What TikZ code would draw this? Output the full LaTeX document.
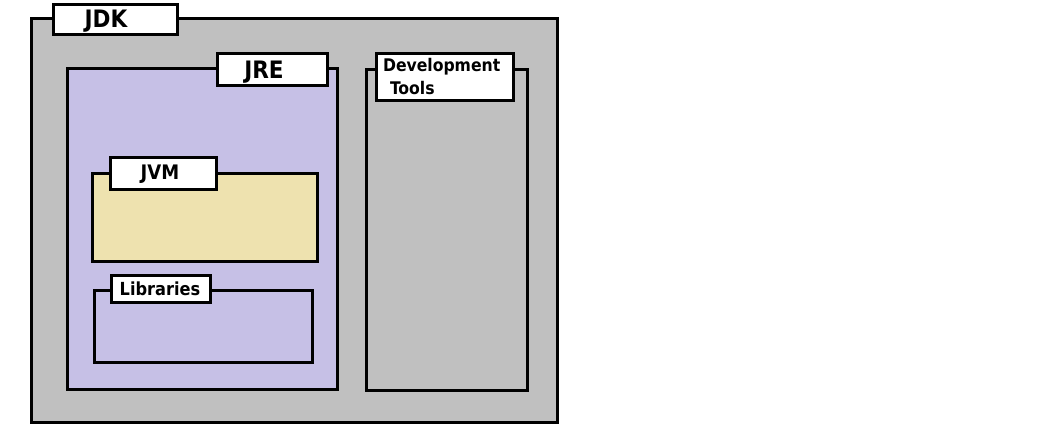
\documentclass[tikz,border=0pt]{standalone}
\usepackage{fontspec}
\setmainfont{DejaVu Sans}
\newfontfamily\labfont{DejaVu Sans Condensed}
\definecolor{jdkgray}{HTML}{C0C0C0}
\definecolor{jrelav}{HTML}{C6C0E6}
\definecolor{jvmtan}{HTML}{EEE2AF}
\begin{document}
\begin{tikzpicture}[x=1pt,y=-1pt,
  box/.style={draw=black, line width=3pt, inner sep=0pt, outer sep=0pt, rectangle},
  lab/.style={draw=black, fill=white, line width=3pt, inner sep=0pt, outer sep=0pt, rectangle},
  txt/.style={inner sep=0pt, outer sep=0pt, text=black}]
\useasboundingbox (0,0) rectangle (1045,428);
\fill[white] (0,0) rectangle (1045,428);
% JDK
\node[box, fill=jdkgray, minimum width=526pt, minimum height=403pt] (jdk) at (294,220.5) {};
\node[lab, minimum width=124pt, minimum height=30pt] (jdkl) at (115,20) {};
\node[txt, font=\labfont\bfseries\fontsize{24}{28}\selectfont] (jdkt) at (106,21) {JDK};
% JRE
\node[box, fill=jrelav, minimum width=270pt, minimum height=320pt] (jre) at (202,229) {};
\node[lab, minimum width=110pt, minimum height=32pt] (jrel) at (272,70) {};
\node[txt, font=\labfont\bfseries\fontsize{24}{28}\selectfont] (jret) at (264,72) {JRE};
% Development tools
\node[box, fill=jdkgray, minimum width=161pt, minimum height=320pt] (dev) at (446.5,230) {};
\node[lab, minimum width=137pt, minimum height=47pt] (devl) at (444.5,77.5) {};
\node[txt, font=\labfont\bfseries\fontsize{17.4}{24}\selectfont, anchor=base west] (devt1) at (383,72) {Development};
\node[txt, font=\labfont\bfseries\fontsize{17.4}{24}\selectfont, anchor=base west] (devt2) at (390,95) {Tools};
% JVM
\node[box, fill=jvmtan, minimum width=225pt, minimum height=88pt] (jvm) at (204.5,217) {};
\node[lab, minimum width=106pt, minimum height=32pt] (jvml) at (163,173) {};
\node[txt, font=\labfont\bfseries\fontsize{20}{24}\selectfont] (jvmt) at (160,174) {JVM};
% Libraries
\node[box, minimum width=218pt, minimum height=72pt] (lib) at (203,326) {};
\node[lab, minimum width=99pt, minimum height=27pt] (libl) at (160.5,288.5) {};
\node[txt, font=\labfont\bfseries\fontsize{18}{24}\selectfont] (libt) at (160,288.5) {Libraries};
\end{tikzpicture}
\end{document}
